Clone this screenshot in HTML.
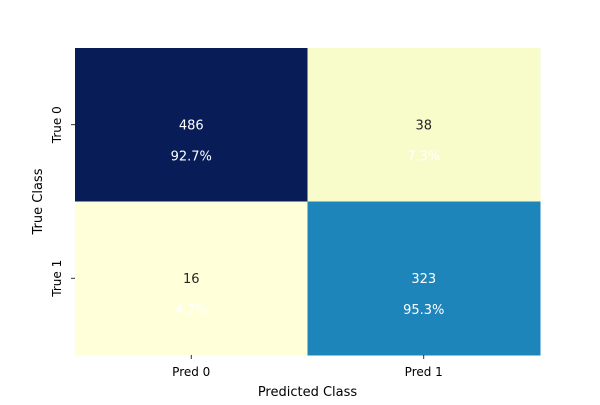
<!DOCTYPE html>
<html><head><meta charset="utf-8"><style>
body{margin:0;background:#fff}
svg text{font-family:"DejaVu Sans","Liberation Sans",sans-serif}
</style></head><body>
<svg id="chart" width="600" height="400" xmlns="http://www.w3.org/2000/svg">
<g id="cells"></g>
<g id="axes"></g>
<text x="307.5" y="396" font-size="13" text-anchor="middle">Predicted Class</text>
<text x="0" y="0" font-size="13" text-anchor="middle" transform="translate(42,201.5) rotate(-90)">True Class</text>
</svg>
<script>
const rowLabels = ["True 0", "True 1"];
const colLabels = ["Pred 0", "Pred 1"];
const counts = [[486, 38], [16, 323]];
const pcts = ["92.7%", "7.3%", "4.7%", "95.3%"];

const L = 75, R = 540, T = 48, B = 355;
const nR = rowLabels.length, nC = colLabels.length;
const cw = (R - L) / nC, ch = (B - T) / nR;
const xPos = j => L + j * cw;
const yPos = i => T + i * ch;
const stops = ["#ffffd9","#edf8b1","#c7e9b4","#7fcdbb","#41b6c4","#1d91c0","#225ea8","#253494","#081d58"];
const flat = counts.flat();
const vmin = Math.min(...flat), vmax = Math.max(...flat);
function hex(h){return [1,3,5].map(k=>parseInt(h.substr(k,2),16));}
function color(v){
  let t = (v - vmin) / (vmax - vmin) * (stops.length - 1);
  let i = Math.min(Math.floor(t), stops.length - 2), f = t - i;
  const a = hex(stops[i]), b = hex(stops[i+1]);
  return "rgb(" + a.map((x,k)=>Math.round(x + (b[k]-x)*f)).join(",") + ")";
}
const NS = "http://www.w3.org/2000/svg";
const cells = document.getElementById("cells");
const axes = document.getElementById("axes");
function mk(tag, attrs, parent){const e=document.createElementNS(NS,tag);for(const k in attrs)e.setAttribute(k,attrs[k]);parent.appendChild(e);return e;}
for (let i = 0; i < nR; i++) for (let j = 0; j < nC; j++) {
  const v = counts[i][j];
  const r = mk("rect", {x:xPos(j), y:yPos(i), width:cw+0.5, height:ch+0.5, fill:color(v)}, cells);
  
  
  const frac = (v - vmin) / (vmax - vmin);
  const cx = xPos(j) + cw / 2, cy = yPos(i) + ch / 2;
  const t1 = mk("text", {x:cx, y:cy+4.5, "font-size":13, "text-anchor":"middle", fill: frac > 0.5 ? "#fff" : "#262626"}, cells);
  t1.textContent = v;
  
  
  const t2 = mk("text", {x:cx, y:cy+35.5, "font-size":13, "text-anchor":"middle", fill:"#fff"}, cells);
  t2.textContent = pcts[i * nC + j];
  
  
}
colLabels.forEach((lab, j) => {
  const cx = xPos(j) + cw / 2;
  const tk = mk("line", {x1:cx, x2:cx, y1:B, y2:B+4, stroke:"#000", "stroke-width":0.8}, axes);
  
  
  const t = mk("text", {x:cx, y:B+21, "font-size":12, "text-anchor":"middle"}, axes);
  t.textContent = lab;
  
  
});
rowLabels.forEach((lab, i) => {
  const cy = yPos(i) + ch / 2;
  const tk = mk("line", {x1:L-4, x2:L, y1:cy, y2:cy, stroke:"#000", "stroke-width":0.8}, axes);
  
  
  const t = mk("text", {x:0, y:0, "font-size":12, "text-anchor":"middle", transform:"translate(61," + cy + ") rotate(-90)"}, axes);
  t.textContent = lab;
  
  
});
</script>
</body></html>
